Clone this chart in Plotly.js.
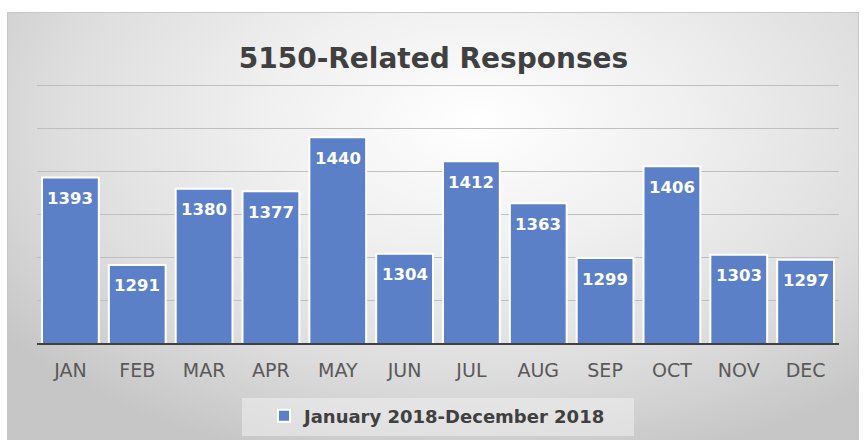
<!DOCTYPE html>
<html>
<head>
<meta charset="utf-8">
<script src="https://cdn.plot.ly/plotly-3.0.1.min.js"></script>
<style>
  html, body { margin: 0; padding: 0; width: 867px; height: 440px; overflow: hidden; background: #ffffff; }
  #bg { position: absolute; left: 7px; top: 12px; width: 850px; height: 440px;
        border: 1px solid #c8c8c8;
        background: radial-gradient(ellipse 70% 80% at 55% 25%, #ffffff 0%, #f0f0f0 35%, #dedede 70%, #c6c6c6 100%); }
  #chart { position: absolute; left: 0; top: 0; width: 867px; height: 440px; }
</style>
</head>
<body>
<div id="bg"></div>
<div id="chart"></div>
<script>
const months = ["JAN","FEB","MAR","APR","MAY","JUN","JUL","AUG","SEP","OCT","NOV","DEC"];
const responses = [1393,1291,1380,1377,1440,1304,1412,1363,1299,1406,1303,1297];
const seriesName = "January 2018-December 2018";
const chartTitle = "5150-Related Responses";

const trace = {
  type: "bar",
  x: months,
  y: responses,
  name: seriesName,
  marker: { color: "#5b80c8", line: { color: "#ffffff", width: 2 } },
  hoverinfo: "skip",
  showlegend: true
};

const labelAnnotations = months.map((m, i) => ({
  x: m, y: responses[i], xref: "x", yref: "y",
  text: String(responses[i]),
  showarrow: false, yanchor: "middle", xanchor: "center", yshift: -21,
  font: { family: "DejaVu Sans", size: 16.5, color: "#ffffff", weight: "bold" }
}));

const layout = {
  width: 867, height: 440,
  paper_bgcolor: "rgba(0,0,0,0)",
  plot_bgcolor: "rgba(0,0,0,0)",
  margin: { l: 37, r: 28, t: 84, b: 97 },
  bargap: 0.15,
  title: {
    text: chartTitle,
    font: { family: "DejaVu Sans", size: 28, color: "#404040", weight: "bold" },
    x: 0.5, xanchor: "center",
    y: 1 - 58/440, yref: "container", yanchor: "middle"
  },
  xaxis: {
    showline: true, linecolor: "#404040", linewidth: 2,
    ticks: "", showgrid: false,
    tickfont: { family: "DejaVu Sans", size: 19, color: "#595959" },
    ticklabelstandoff: 9,
    fixedrange: true
  },
  yaxis: {
    range: [1200, 1502], tick0: 1200, dtick: 50,
    showticklabels: false, showline: false, zeroline: false,
    gridcolor: "#bfbfbf", gridwidth: 1,
    fixedrange: true
  },
  showlegend: true,
  legend: {
    orientation: "h",
    x: 0.5, xanchor: "center",
    y: 1 - 416/440, yref: "container", yanchor: "middle",
    bgcolor: "rgba(0,0,0,0)",
    font: { family: "DejaVu Sans", size: 18, color: "#404040", weight: "bold" }
  },
  annotations: labelAnnotations,
  shapes: [{
    type: "rect", xref: "paper", yref: "paper",
    x0: (242-37)/802, x1: (634-37)/802,
    y0: (343-436)/259, y1: (343-398)/259,
    fillcolor: "rgba(240,240,240,0.55)", line: { width: 0 }, layer: "below"
  }]
};

Plotly.newPlot("chart", [trace], layout, { displayModeBar: false, staticPlot: true });
</script>
</body>
</html>
